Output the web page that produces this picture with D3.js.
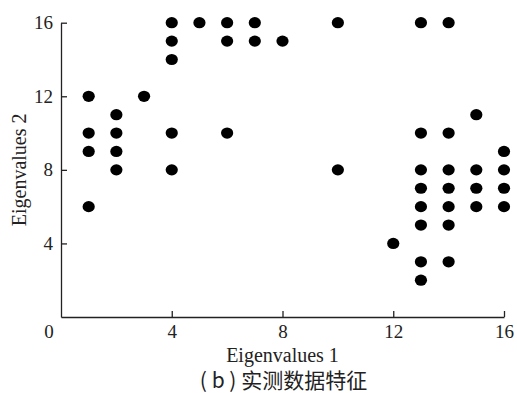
<!DOCTYPE html>
<html>
<head>
<meta charset="utf-8">
<script src="https://cdn.jsdelivr.net/npm/d3@7"></script>
<style>
  html, body { margin: 0; padding: 0; background: #fff; }
  svg { display: block; }
  .axis text { font-family: "Liberation Serif", "Times New Roman", serif; font-size: 19px; fill: #222; }
  .axis path, .axis line { stroke: #222; stroke-width: 1.3px; }
</style>
</head>
<body>
<svg id="chart" width="517" height="393"></svg>
<script>
// Measured feature pairs (Eigenvalues 1, Eigenvalues 2)
const eigen1 = [1, 1, 1, 1,
                2, 2, 2, 2,
                3,
                4, 4, 4, 4, 4,
                5,
                6, 6, 6,
                7, 7,
                8,
                10, 10,
                12,
                13, 13, 13, 13, 13, 13, 13, 13,
                14, 14, 14, 14, 14, 14, 14,
                15, 15, 15, 15,
                16, 16, 16, 16];
const eigen2 = [12, 10, 9, 6,
                11, 10, 9, 8,
                12,
                16, 15, 14, 10, 8,
                16,
                16, 15, 10,
                16, 15,
                15,
                16, 8,
                4,
                16, 10, 8, 7, 6, 5, 3, 2,
                16, 10, 8, 7, 6, 5, 3,
                11, 8, 7, 6,
                9, 8, 7, 6];

const xTicks = [4, 8, 12, 16];
const yTicks = [4, 8, 12, 16];
const xTitle = "Eigenvalues 1";
const yTitle = "Eigenvalues 2";
const caption = "( b ) 实测数据特征";

const svg = d3.select("#chart");
const plotLeft = 61, plotRight = 504, plotTop = 22.7, plotBottom = 317;

const x = d3.scaleLinear().domain([0, 16]).range([plotLeft, plotRight]);
const y = d3.scaleLinear().domain([0, 16]).range([plotBottom, plotTop]);

// x axis with inward ticks
svg.append("g")
  .attr("class", "axis")
  .attr("transform", `translate(0,${plotBottom})`)
  .call(d3.axisBottom(x).tickValues(xTicks).tickSizeInner(-6).tickSizeOuter(0).tickPadding(8));

// y axis with inward ticks
svg.append("g")
  .attr("class", "axis")
  .attr("transform", `translate(${plotLeft},0)`)
  .call(d3.axisLeft(y).tickValues(yTicks).tickSizeInner(-6).tickSizeOuter(0).tickPadding(8));

// shared origin label
svg.append("text")
  .attr("x", x(0) - 12)
  .attr("y", plotBottom + 8)
  .attr("dy", "0.71em")
  .attr("text-anchor", "middle")
  .style("font-family", "'Liberation Serif', 'Times New Roman', serif")
  .style("font-size", "19px")
  .style("fill", "#222")
  .text("0");

// points
svg.append("g")
  .selectAll("ellipse")
  .data(d3.range(eigen1.length))
  .join("ellipse")
  .attr("cx", i => x(eigen1[i]))
  .attr("cy", i => y(eigen2[i]))
  .attr("rx", 6.1)
  .attr("ry", 5.6)
  .attr("fill", "#000");

// axis titles
svg.append("text")
  .attr("x", (plotLeft + plotRight) / 2)
  .attr("y", 362)
  .attr("text-anchor", "middle")
  .style("font-family", "'Liberation Serif', 'Times New Roman', serif")
  .style("font-size", "20px")
  .style("fill", "#222")
  .text(xTitle);

svg.append("text")
  .attr("transform", `translate(26,${(plotTop + plotBottom) / 2}) rotate(-90)`)
  .attr("text-anchor", "middle")
  .style("font-family", "'Liberation Serif', 'Times New Roman', serif")
  .style("font-size", "20px")
  .style("fill", "#222")
  .text(yTitle);

// caption
svg.append("text")
  .attr("x", (plotLeft + plotRight) / 2 + 1)
  .attr("y", 388)
  .attr("text-anchor", "middle")
  .style("font-family", "'Noto Sans CJK SC', sans-serif")
  .style("font-size", "21px")
  .style("fill", "#222")
  .text(caption);
</script>
</body>
</html>
